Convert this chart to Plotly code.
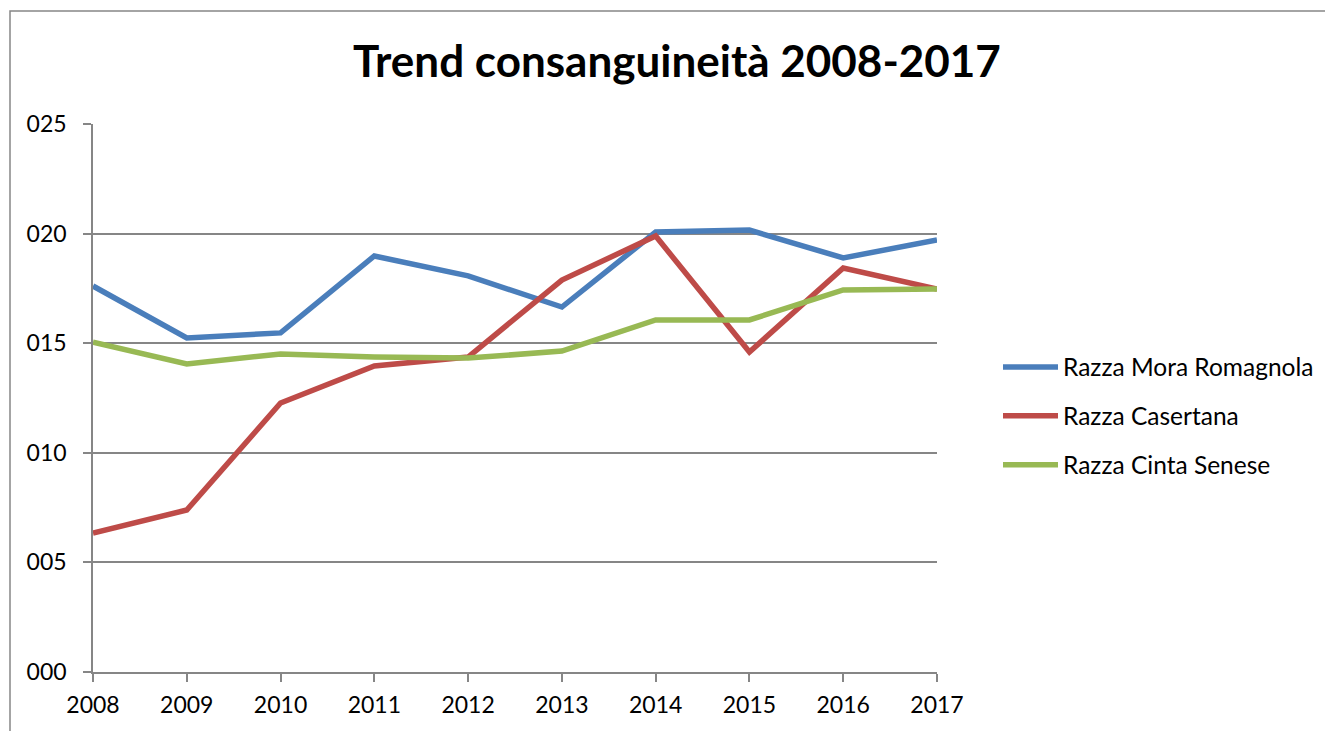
import plotly.graph_objects as go

years = [2008, 2009, 2010, 2011, 2012, 2013, 2014, 2015, 2016, 2017]
mora_romagnola = [17.61, 15.24, 15.47, 18.98, 18.07, 16.65, 20.07, 20.16, 18.89, 19.71]
casertana = [6.34, 7.39, 12.27, 13.96, 14.37, 17.88, 19.89, 14.60, 18.43, 17.47]
cinta_senese = [15.05, 14.05, 14.51, 14.37, 14.32, 14.64, 16.06, 16.06, 17.43, 17.47]
y_ticks = [0, 5, 10, 15, 20, 25]
y_labels = ["000", "005", "010", "015", "020", "025"]

series = [
    ("Razza Mora Romagnola", mora_romagnola, "#4A7EBB"),
    ("Razza Casertana", casertana, "#BE4B48"),
    ("Razza Cinta Senese", cinta_senese, "#98B954"),
]

FONT = "Lato, 'Open Sans', sans-serif"
GRID = "#868686"

fig = go.Figure()
for name, vals, col in series:
    fig.add_trace(go.Scatter(x=years, y=vals, mode="lines", name=name, legendgroup=name,
                             line=dict(color=col, width=5.5)))

L, T, PW, PH = 85, 116, 844, 548
fig.update_layout(
    width=1333, height=731,
    paper_bgcolor="white", plot_bgcolor="white",
    margin=dict(l=L, r=1333 - L - PW, t=T, b=731 - T - PH),
    title=dict(text="<b>Trend consanguineità 2008-2017</b>", x=669 / 1333, xanchor="center",
               y=1 - 54 / 731, yanchor="middle",
               font=dict(family=FONT, size=44, color="black")),
    font=dict(family=FONT, size=23, color="black"),
    showlegend=True,
    legend=dict(x=(990 - L) / PW, xanchor="left", y=(T + PH - 408) / PH, yanchor="middle",
                font=dict(size=24.5, family=FONT, color="black"),
                itemwidth=55,
                traceorder="grouped", tracegroupgap=14, bgcolor="rgba(0,0,0,0)"),
    xaxis=dict(range=[2008, 2017], tickvals=years, ticktext=[str(y) for y in years],
               showgrid=False, zeroline=False, showline=True, linecolor=GRID, linewidth=1.5,
               ticks="outside", ticklen=8, tickcolor=GRID, tickwidth=1.5,
               ticklabelstandoff=4,
               tickfont=dict(size=23, family=FONT), fixedrange=True),
    yaxis=dict(range=[0, 25], tickvals=y_ticks, ticktext=y_labels,
               showgrid=True, gridcolor=GRID, gridwidth=1.5, zeroline=False,
               showline=True, linecolor=GRID, linewidth=1.5,
               ticks="outside", ticklen=8, tickcolor=GRID, tickwidth=1.5,
               ticklabelstandoff=12,
               tickfont=dict(size=23, family=FONT), fixedrange=True),
    shapes=[dict(type="rect", xref="paper", yref="paper",
                 x0=(2 - L) / PW, x1=1.7, y0=-0.5, y1=(T + PH - 3) / PH,
                 line=dict(color=GRID, width=1.5), fillcolor="rgba(0,0,0,0)", layer="below")],
)

fig.write_html("out.html")
